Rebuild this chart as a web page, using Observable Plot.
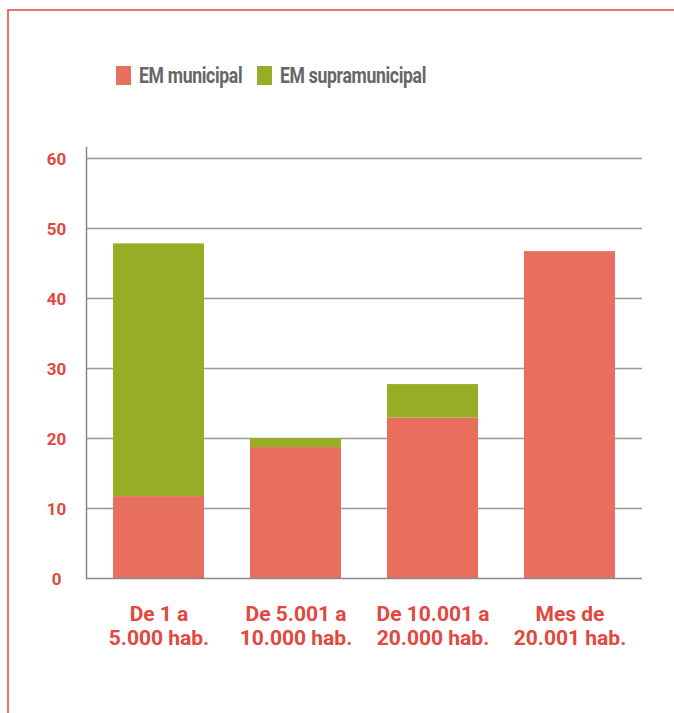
<!DOCTYPE html>
<html><head><meta charset="utf-8">
<script src="https://cdn.jsdelivr.net/npm/d3@7"></script>
<script src="https://cdn.jsdelivr.net/npm/@observablehq/plot@0.6"></script>
<style>
html,body{margin:0;padding:0;background:#fff;width:674px;height:713px;overflow:hidden;font-family:Roboto,sans-serif;}
#frame{position:absolute;left:7px;top:9px;width:720px;height:760px;border:2px solid #ec716d;box-sizing:border-box;}
.sw{position:absolute;top:66px;width:15px;height:19px;}
.lt{position:absolute;top:64px;font-size:22px;font-weight:700;color:#666;letter-spacing:-0.4px;line-height:24px;white-space:nowrap;transform:scaleX(0.8);transform-origin:0 0;}
#chart{position:absolute;left:0;top:120px;}
</style></head>
<body>
<div id="frame"></div>
<div id="legend"></div>
<div id="chart"></div>
<script>
const categories = ["De 1 a\n5.000 hab.", "De 5.001 a\n10.000 hab.", "De 10.001 a\n20.000 hab.", "Mes de\n20.001 hab."];
const series = ["EM municipal", "EM supramunicipal"];
const municipal = [11.7, 18.7, 22.9, 46.7];
const supramunicipal = [36.1, 1.3, 4.8, 0];
const yTicks = [0, 10, 20, 30, 40, 50, 60];
const colors = ["#e86f5e", "#97ad25"];

// legend
const legend = document.getElementById("legend");
const legendPos = [[116, 139], [257, 280]];
series.forEach((s, i) => {
  const sw = document.createElement("div");
  sw.className = "sw"; sw.style.left = legendPos[i][0] + "px"; sw.style.background = colors[i];
  const t = document.createElement("div");
  t.className = "lt"; t.style.left = legendPos[i][1] + "px"; t.textContent = s;
  legend.append(sw, t);
});

const data = categories.flatMap((c, i) => [
  {cat: c, s: series[0], v: municipal[i]},
  {cat: c, s: series[1], v: supramunicipal[i]}
]);

const chart = Plot.plot({
  width: 674, height: 560,
  marginLeft: 86, marginRight: 32, marginTop: 27, marginBottom: 102,
  style: {fontFamily: "Roboto, sans-serif", background: "transparent", overflow: "visible"},
  x: {domain: categories, range: [90, 638], paddingInner: 0.336, paddingOuter: 0.168, label: null},
  y: {domain: [0, 61.57], label: null},
  color: {domain: series, range: colors},
  marks: [
    Plot.ruleY(yTicks.filter(d => d > 0), {stroke: "#999", strokeWidth: 1.5}),
    Plot.barY(data, {x: "cat", y: "v", fill: "s", order: series}),
    Plot.ruleY([0], {stroke: "#888", strokeWidth: 1.5}),
    Plot.frame({anchor: "left", stroke: "#888", strokeWidth: 1.5}),
    Plot.axisY({ticks: yTicks, tickSize: 0, tickPadding: 30, textAnchor: "middle", fill: "#e3473e", fontSize: 17, fontWeight: "bold", dy: 1, label: null}),
    Plot.axisX({tickSize: 0, tickPadding: 25, lineHeight: 1.15, fontSize: 21, fill: "#e3473e", fontWeight: "bold", letterSpacing: -0.8, label: null})
  ]
});
document.getElementById("chart").append(chart);
</script>
</body></html>
